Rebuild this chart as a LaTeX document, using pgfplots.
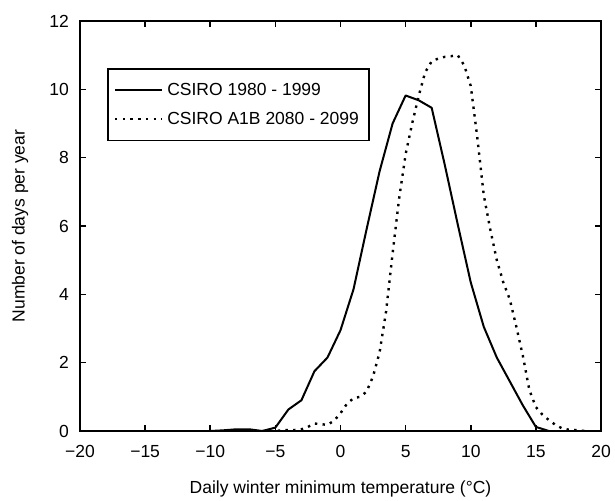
\documentclass[border=0pt]{standalone}
\usepackage{pgfplots}
\pgfplotsset{compat=1.18}
\usepackage{fontspec}
\setmainfont{Liberation Sans}
\begin{document}
\fontsize{8.75pt}{10.5pt}\selectfont
\begin{tikzpicture}
\useasboundingbox (-40pt,-34.5pt) rectangle (267.5pt,215.5pt);
\begin{axis}[
  at={(0,0)}, anchor=south west, scale only axis,
  width=260.5pt, height=205pt,
  xmin=-20, xmax=20, ymin=0, ymax=12,
  xtick={-20,-15,...,20},
  xticklabels={−20,−15,−10,−5,0,5,10,15,20},
  ytick={0,2,...,12},
  tick align=inside, major tick length=3pt,
  tick style={black, line width=0.8pt},
  axis line style={line width=0.9pt},
  font=\fontsize{8.75pt}{10.5pt}\selectfont,
  xticklabel style={yshift=-4pt},
  yticklabel style={xshift=-2.5pt},
  /pgf/number format/assume math mode=true,
  every axis x label/.style={at={(axis description cs:0.5,-0.141)}, anchor=center},
  every axis y label/.style={at={(axis description cs:-0.115,0.5)}, rotate=90, anchor=center},
  xlabel={Daily winter minimum temperature (°C)},
  ylabel={Number of days per year},
  legend style={at={(0.052,0.885)}, anchor=north west, draw=black, line width=0.8pt,
    font=\fontsize{8.75pt}{10.5pt}\selectfont, row sep=3pt, inner xsep=3pt, inner ysep=5pt},
  legend cell align=left,
  legend image code/.code={\draw[#1] (0pt,0pt) -- (23.5pt,0pt);},
]
\addplot[black, line width=1pt, line join=round] coordinates {
(-10,0) (-9,0.02) (-8,0.05) (-7,0.05) (-6,0) (-5,0.1) (-4,0.63) (-3,0.9)
(-2,1.75) (-1,2.15) (0,2.95) (1,4.15) (2,5.9) (3,7.6) (4,9.0) (5,9.82)
(6,9.68) (7,9.46) (8,7.8) (9,6.05) (10,4.35) (11,3.05) (12,2.15) (13,1.45)
(14,0.75) (15,0.12) (16,0)
};
\addlegendentry{CSIRO 1980 - 1999}
\addplot[black, line width=1.2pt, dash pattern=on 1.2pt off 2.65pt] coordinates {
(-6,0) (-5,0) (-4.5,0.02) (-4,0.03) (-3.5,0.03) (-3,0.05) (-2.5,0.12) (-2,0.22)
(-1.5,0.2) (-1,0.18) (-0.5,0.3) (0,0.52) (0.5,0.8) (1,0.96) (1.5,1.0) (2,1.15)
(2.5,1.6) (3,2.3) (3.5,3.5) (4,5.2) (4.5,6.8) (5,8.1) (5.5,9.0) (6,9.8)
(6.5,10.5) (7,10.82) (7.5,10.9) (8,10.95) (8.5,10.97) (9,11.0) (9.5,10.7)
(10,10.1) (10.5,8.6) (11,6.9) (11.5,5.9) (12,5.0) (12.5,4.35) (13,3.85)
(13.5,3.05) (14,2.2) (14.5,1.2) (15,0.7) (15.5,0.48) (16,0.32) (16.5,0.18)
(17,0.08) (17.5,0.04) (18,0.03) (18.5,0.01) (19,0)
};
\addlegendentry{CSIRO A1B 2080 - 2099}
\end{axis}
\end{tikzpicture}
\end{document}
